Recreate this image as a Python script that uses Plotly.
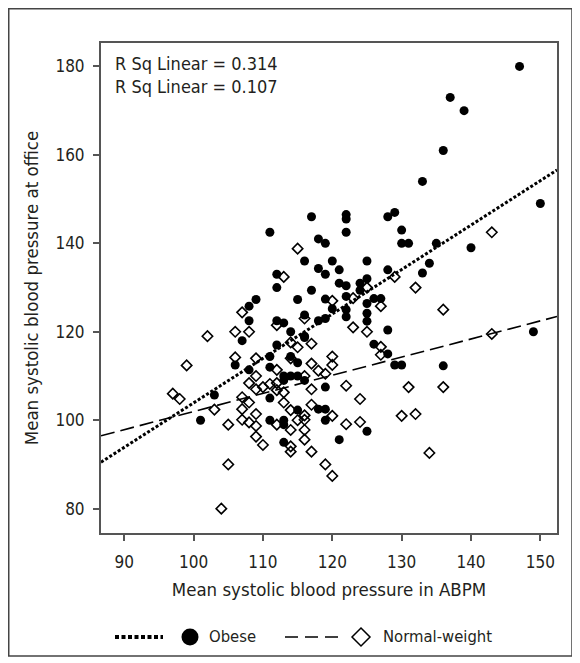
import plotly.graph_objects as go

# ---------------- data ----------------
obese_x = [147, 137, 139, 136, 133, 150, 117, 122, 122, 128, 129, 130, 122, 111, 118,
           119, 130, 131, 135, 140, 116, 120, 125, 134, 118, 119, 121, 128, 133, 112,
           112, 117, 121, 122, 124, 125, 124, 109, 108, 115, 119, 122, 125, 126, 127,
           120, 122, 122, 116, 118, 119, 125, 125, 108, 112, 113, 128, 116, 114, 107,
           112, 116, 126, 128, 114, 106, 111, 108, 111, 115, 129, 130, 136, 113, 114,
           115, 116, 113, 103, 101, 111, 119, 118, 119, 115, 119, 111, 113, 113, 125,
           121, 113, 149]
obese_y = [180, 173, 170, 161, 154, 149, 146, 146.5, 145.5, 146, 147, 143, 142.5, 142.5, 141,
           140, 140, 140, 140, 139, 136, 136, 136, 135.5, 134.3, 133, 134, 134, 133.3, 133,
           130, 129.4, 131, 130.4, 131, 132, 129.4, 127.3, 125.8, 127.3, 127.4, 128, 126.4, 127.5, 127.5,
           125.2, 125, 123.4, 123.8, 122.5, 123, 122.4, 124.2, 122.5, 122.5, 122, 120.4, 119, 120, 118,
           117, 118.7, 117.2, 115, 114.4, 112.5, 114.4, 111.4, 112, 113, 112.5, 112.5, 112.3, 110, 110,
           110, 109, 109, 105.7, 100, 105, 107.5, 102.5, 102.5, 102.3, 100, 100, 100, 99, 97.5,
           95.6, 95, 120]

normal_x = [143, 115, 113, 129, 132, 125, 123, 120, 127, 136, 107, 116, 112, 123, 125,
            106, 108, 102, 143, 114, 115, 117, 127, 127, 99, 106, 109, 114, 120, 120,
            117, 118, 119, 116, 112, 109, 108, 110, 111, 112, 117, 122, 131, 136, 97,
            98, 103, 107, 108, 109, 112, 113, 124, 113, 117, 114, 107, 109, 116, 116,
            120, 130, 132, 105, 107, 108, 109, 112, 115, 122, 124, 114, 116, 109, 110,
            114, 114, 116, 117, 134, 105, 119, 120, 104]
normal_y = [142.5, 138.8, 132.4, 132.4, 130, 130, 127.6, 127, 125.8, 125, 124.4, 123, 121.5, 121, 120,
            120, 120, 119, 119.5, 117.6, 116.5, 117.3, 116.6, 114.8, 112.4, 114.2, 114, 114, 114.4, 112.5,
            112.8, 111.2, 110.5, 110, 111.4, 110, 108.4, 107.5, 108.2, 108.4, 107, 107.8, 107.5, 107.5, 106,
            104.8, 102.4, 105.2, 104, 107, 106.8, 106.3, 104.8, 104, 103.5, 102.3, 102.5, 101.4, 101.1, 100.1,
            101, 101, 101.4, 99, 100.1, 99.5, 98.7, 99, 100, 99.1, 99.6, 97.8, 97.8, 96.3, 94.4,
            94.1, 92.9, 95.6, 92.9, 92.6, 90, 90, 87.4, 80]

# linear fit lines as drawn in the reference (intercept, slope)
obese_fit = (3.42, 1.005)
normal_fit = (60.97, 0.41)
fit_x_ends = [86.65, 152.4]

r2_labels = ["R Sq Linear = 0.314", "R Sq Linear = 0.107"]
series_names = ["Obese", "Normal-weight"]
x_ticks = [90, 100, 110, 120, 130, 140, 150]
y_ticks = [80, 100, 120, 140, 160, 180]
x_title = "Mean systolic blood pressure in ABPM"
y_title = "Mean systolic blood pressure at office"

# ---------------- figure ----------------
FONT = "Liberation Sans Narrow, DejaVu Sans Condensed, Arial Narrow, sans-serif"
INK = "#231f20"
AX = "#555555"

# the page body has an 8px margin, so the figure is drawn 8px in from the window corner
OFF = 8
W, H = 580 - OFF, 663 - OFF
PLOT_L, PLOT_R, PLOT_T, PLOT_B = 101, 557, 43, 533   # window pixel positions of the plot box
ML, MT = PLOT_L - OFF, PLOT_T - OFF
MR, MB = W - (PLOT_R - OFF), H - (PLOT_B - OFF)
PW, PH = PLOT_R - PLOT_L, PLOT_B - PLOT_T


def px_x(p):
    return (p - PLOT_L) / PW


def px_y(p):
    return (PLOT_B - p) / PH


fig = go.Figure()

fig.add_trace(go.Scatter(
    x=obese_x, y=obese_y, mode="markers", name=series_names[0], showlegend=False,
    marker=dict(symbol="circle", size=9, color="black", line=dict(width=0)),
))
fig.add_trace(go.Scatter(
    x=normal_x, y=normal_y, mode="markers", name=series_names[1], showlegend=False,
    marker=dict(symbol="diamond-open", size=8, color="black", line=dict(width=1.6)),
))

ob_line_y = [obese_fit[0] + obese_fit[1] * x for x in fit_x_ends]
no_line_y = [normal_fit[0] + normal_fit[1] * x for x in fit_x_ends]

fig.add_trace(go.Scatter(
    x=fit_x_ends, y=ob_line_y, mode="lines", showlegend=False,
    line=dict(color="black", width=3, dash="3px,2px"),
))
fig.add_trace(go.Scatter(
    x=fit_x_ends, y=no_line_y, mode="lines", showlegend=False,
    line=dict(color="black", width=1.6, dash="14px,6px"),
))

axis_common = dict(
    showgrid=False, zeroline=False, showline=True, linecolor=AX, linewidth=2,
    mirror=True, ticks="outside", ticklen=6, tickwidth=1.5, tickcolor=AX,
    tickfont=dict(family=FONT, size=17, color=INK),
    title_font=dict(family=FONT, size=18.5, color=INK),
)

fig.update_xaxes(range=[86.65, 152.4], tickvals=x_ticks, title_text=x_title,
                 title_standoff=12, ticklabelstandoff=7, **axis_common)
fig.update_yaxes(range=[74.5, 185.3], tickvals=y_ticks, title_text=y_title,
                 title_standoff=12, ticklabelstandoff=5, **axis_common)

fig.add_annotation(
    xref="paper", yref="paper", x=px_x(113), y=px_y(51), xanchor="left", yanchor="top",
    text="<br>".join(r2_labels), showarrow=False, align="left",
    font=dict(family=FONT, size=18, color=INK),
)

# outer frame of the figure
fig.add_shape(type="rect", xref="paper", yref="paper",
              x0=px_x(8.75), x1=px_x(572), y0=px_y(656), y1=px_y(8.75),
              line=dict(color="#444444", width=1.5), fillcolor="rgba(0,0,0,0)")

# ---------------- legend (drawn below the axis title) ----------------
LEG_Y = 637
fig.add_shape(type="line", xref="paper", yref="paper",
              x0=px_x(115), x1=px_x(163), y0=px_y(LEG_Y), y1=px_y(LEG_Y),
              line=dict(color="black", width=4, dash="4px,2.5px"))
fig.add_shape(type="circle", xref="paper", yref="paper",
              x0=px_x(181.5), x1=px_x(198.5), y0=px_y(LEG_Y + 8.5), y1=px_y(LEG_Y - 8.5),
              line=dict(color="black", width=0), fillcolor="black")
fig.add_annotation(xref="paper", yref="paper", x=px_x(207), y=px_y(LEG_Y),
                   xanchor="left", yanchor="middle", showarrow=False, text=series_names[0],
                   font=dict(family=FONT, size=16.5, color=INK))
fig.add_shape(type="line", xref="paper", yref="paper",
              x0=px_x(285), x1=px_x(338), y0=px_y(LEG_Y), y1=px_y(LEG_Y),
              line=dict(color="black", width=1.4, dash="13px,7px"))
dcx, dcy, dr = 361, LEG_Y, 9
diamond_path = "M {},{} L {},{} L {},{} L {},{} Z".format(
    px_x(dcx), px_y(dcy - dr), px_x(dcx + dr), px_y(dcy),
    px_x(dcx), px_y(dcy + dr), px_x(dcx - dr), px_y(dcy))
fig.add_shape(type="path", xref="paper", yref="paper", path=diamond_path,
              line=dict(color="black", width=1.5), fillcolor="white")
fig.add_annotation(xref="paper", yref="paper", x=px_x(381), y=px_y(LEG_Y),
                   xanchor="left", yanchor="middle", showarrow=False, text=series_names[1],
                   font=dict(family=FONT, size=16.5, color=INK))

fig.update_layout(
    width=W, height=H,
    margin=dict(l=ML, r=MR, t=MT, b=MB, autoexpand=False),
    paper_bgcolor="white", plot_bgcolor="white",
    font=dict(family=FONT, color=INK),
    showlegend=False,
)

fig.write_html("out.html")
